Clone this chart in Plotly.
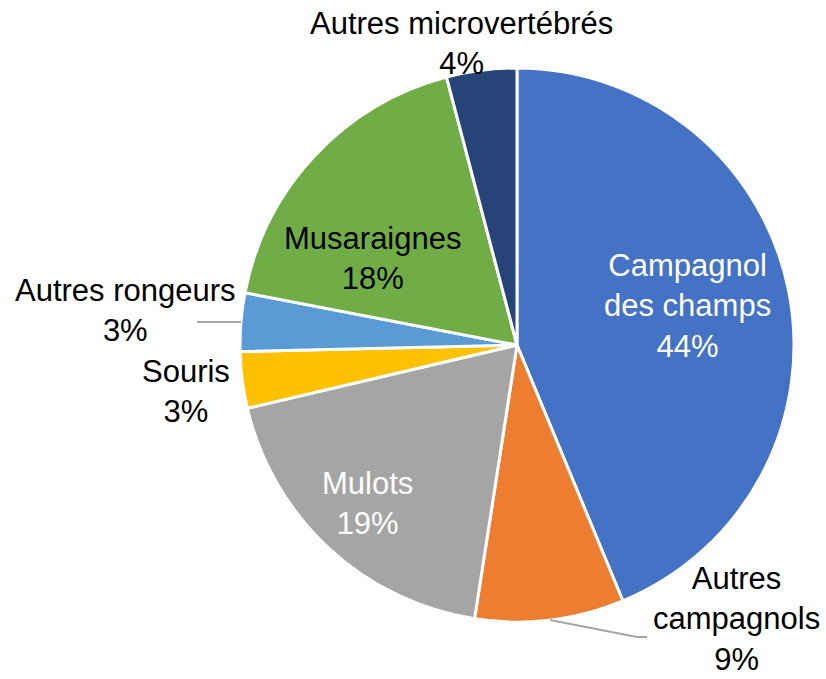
import math
import plotly.graph_objects as go

# ---- data ----
labels = ["Campagnol des champs", "Autres campagnols", "Mulots", "Souris",
          "Autres rongeurs", "Musaraignes", "Autres microvertébrés"]
label_text = ["Campagnol<br>des champs", "Autres<br>campagnols", "Mulots", "Souris",
              "Autres rongeurs", "Musaraignes", "Autres microvertébrés"]
values = [43.8, 8.7, 18.9, 3.3, 3.4, 17.9, 4.1]
pct_labels = ["44%", "9%", "19%", "3%", "3%", "18%", "4%"]

# ---- style ----
colors = ["#4472C4", "#ED7D31", "#A5A5A5", "#FFC000", "#5B9BD5", "#70AD47", "#264478"]
text_colors = ["white", "black", "white", "black", "black", "black", "black"]
W, H = 826, 679
CX, CY, R = 517, 345, 277
FONT = "Arial, Liberation Sans, sans-serif"
FS = 31
# label centre positions (pixels)
label_px = [(687, 306), (736, 619), (367, 503), (186, 392), (125, 311), (372, 258), (461, 44)]
# leader line end points (pixels) for outside labels
leaders = {1: [(637, 637), (647, 637)], 4: [(197, 322)]}

def px2paper(x, y):
    return x / W, 1 - y / H

fig = go.Figure(go.Pie(
    labels=labels, values=values, sort=False, direction="clockwise", rotation=0,
    marker=dict(colors=colors, line=dict(color="white", width=3)),
    textinfo="none", hoverinfo="label+percent", showlegend=False,
    domain=dict(x=[(CX - R) / W, (CX + R) / W], y=[(H - CY - R) / H, (H - CY + R) / H]),
))

total = sum(values)
cum = 0
shapes = []
for i, v in enumerate(values):
    mid = (cum + v / 2) / total * 2 * math.pi
    cum += v
    if i in leaders:
        ex, ey = CX + R * math.sin(mid), CY - R * math.cos(mid)
        pts = [(ex, ey)] + leaders[i]
        for (x0, y0), (x1, y1) in zip(pts[:-1], pts[1:]):
            a0, b0 = px2paper(x0, y0)
            a1, b1 = px2paper(x1, y1)
            shapes.append(dict(type="line", xref="paper", yref="paper",
                               x0=a0, y0=b0, x1=a1, y1=b1,
                               line=dict(color="#A6A6A6", width=2)))

annotations = []
for i, (lx, ly) in enumerate(label_px):
    ax, ay = px2paper(lx, ly)
    annotations.append(dict(
        x=ax, y=ay, xref="paper", yref="paper", showarrow=False,
        text=f"{label_text[i]}<br>{pct_labels[i]}", align="center",
        xanchor="center", yanchor="middle",
        font=dict(family=FONT, size=FS, color=text_colors[i])))

fig.update_layout(
    width=W, height=H, margin=dict(l=0, r=0, t=0, b=0),
    paper_bgcolor="white", plot_bgcolor="white",
    shapes=shapes, annotations=annotations,
)
fig.write_html("out.html")
